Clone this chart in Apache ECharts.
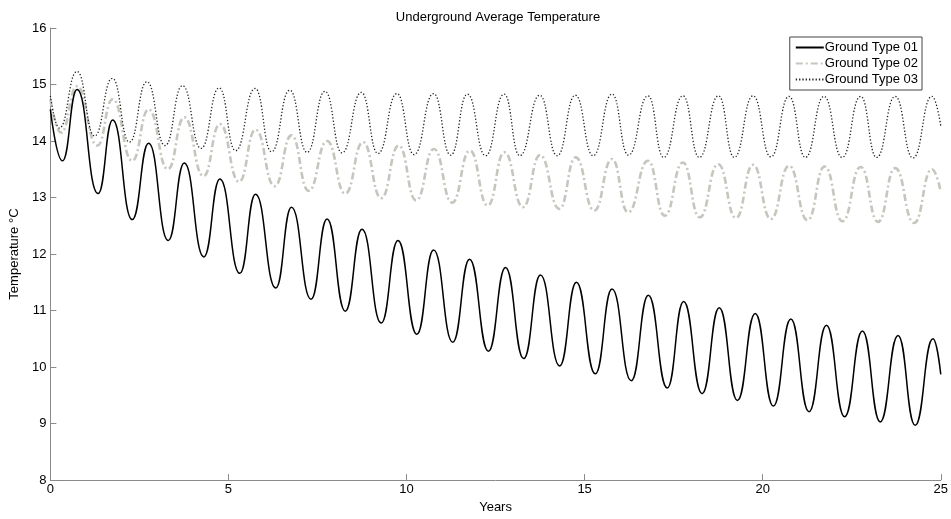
<!DOCTYPE html>
<html>
<head>
<meta charset="utf-8">
<script src="https://cdn.jsdelivr.net/npm/echarts@6/dist/echarts.min.js"></script>
<style>html,body{margin:0;padding:0;background:#fff}#c{width:951px;height:519px}</style>
</head>
<body>
<div id="c"></div>
<script>
var seriesNames = ['Ground Type 01', 'Ground Type 02', 'Ground Type 03'];

var t1 = [0, 0.34, 0.75, 1.34, 1.75, 2.3, 2.76, 3.31, 3.76, 4.31, 4.76, 5.32, 5.76, 6.33, 6.77, 7.32, 7.77, 8.28, 8.75, 9.29, 9.76, 10.29, 10.76, 11.3, 11.77, 12.3, 12.78, 13.29, 13.76, 14.3, 14.77, 15.3, 15.77, 16.31, 16.79, 17.32, 17.78, 18.3, 18.78, 19.29, 19.79, 20.3, 20.79, 21.3, 21.79, 22.3, 22.8, 23.3, 23.8, 24.28, 24.78, 25];
var v1 = [14.56, 13.65, 14.91, 13.07, 14.37, 12.61, 13.96, 12.24, 13.61, 11.95, 13.33, 11.66, 13.06, 11.40, 12.83, 11.20, 12.62, 10.99, 12.44, 10.78, 12.24, 10.58, 12.07, 10.44, 11.91, 10.28, 11.76, 10.15, 11.63, 10.02, 11.50, 9.88, 11.38, 9.76, 11.27, 9.63, 11.16, 9.53, 11.05, 9.41, 10.95, 9.31, 10.85, 9.21, 10.74, 9.12, 10.64, 9.03, 10.56, 8.97, 10.50, 9.87];

var t2 = [0, 0.3, 0.75, 1.32, 1.75, 2.3, 2.76, 3.3, 3.76, 4.3, 4.76, 5.3, 5.76, 6.3, 6.77, 7.25, 7.77, 8.28, 8.78, 9.29, 9.78, 10.27, 10.77, 11.28, 11.78, 12.28, 12.75, 13.27, 13.75, 14.29, 14.75, 15.27, 15.77, 16.22, 16.78, 17.25, 17.76, 18.23, 18.75, 19.25, 19.73, 20.23, 20.74, 21.26, 21.74, 22.24, 22.75, 23.24, 23.72, 24.25, 24.75, 25];
var v2 = [14.74, 14.15, 14.97, 13.92, 14.74, 13.65, 14.56, 13.50, 14.42, 13.38, 14.30, 13.28, 14.20, 13.20, 14.10, 13.12, 14.00, 13.07, 13.98, 12.99, 13.92, 12.95, 13.86, 12.91, 13.83, 12.86, 13.80, 12.83, 13.75, 12.80, 13.71, 12.77, 13.68, 12.74, 13.65, 12.68, 13.62, 12.65, 13.59, 12.64, 13.58, 12.62, 13.56, 12.60, 13.55, 12.58, 13.54, 12.57, 13.52, 12.55, 13.50, 13.10];

var t3 = [0, 0.25, 0.75, 1.24, 1.74, 2.22, 2.71, 3.22, 3.71, 4.23, 4.74, 5.2, 5.75, 6.21, 6.72, 7.21, 7.71, 8.19, 8.73, 9.2, 9.73, 10.21, 10.76, 11.24, 11.71, 12.22, 12.74, 13.18, 13.74, 14.23, 14.74, 15.24, 15.77, 16.23, 16.78, 17.22, 17.76, 18.22, 18.76, 19.2, 19.73, 20.23, 20.74, 21.2, 21.72, 22.23, 22.75, 23.2, 23.72, 24.22, 24.75, 25];
var v3 = [14.80, 14.23, 15.23, 14.09, 15.11, 13.98, 15.05, 13.92, 14.98, 13.87, 14.94, 13.83, 14.93, 13.81, 14.90, 13.80, 14.88, 13.79, 14.86, 13.78, 14.84, 13.76, 14.84, 13.75, 14.83, 13.74, 14.83, 13.74, 14.81, 13.74, 14.81, 13.74, 14.83, 13.75, 14.80, 13.71, 14.80, 13.71, 14.80, 13.71, 14.80, 13.72, 14.79, 13.71, 14.79, 13.71, 14.79, 13.71, 14.79, 13.70, 14.79, 14.27];

function pairs(t, v) { return t.map(function (x, i) { return [x, v[i]]; }); }

var font = 'Liberation Sans, Arial, sans-serif';
var chart = echarts.init(document.getElementById('c'), null, { renderer: 'canvas' });
chart.setOption({
  backgroundColor: '#fff',
  animation: false,
  title: {
    text: 'Underground Average Temperature',
    left: 493, textAlign: 'center', top: 6,
    textStyle: { fontFamily: font, fontSize: 13, fontWeight: 'normal', color: '#000' }
  },
  legend: {
    orient: 'vertical', right: 29, top: 37,
    itemWidth: 28, itemHeight: 14, itemGap: 3,
    padding: [4, 4, 4, 5],
    backgroundColor: '#fff', borderColor: '#444', borderWidth: 1,
    itemStyle: { opacity: 0 },
    textStyle: { fontFamily: font, fontSize: 13, color: '#000', padding: [0, 0, 0, -4] },
    data: seriesNames
  },
  grid: { left: 47, right: 10, top: 28, bottom: 36, containLabel: false },
  xAxis: {
    type: 'value', min: 0, max: 25, interval: 5,
    name: 'Years', nameLocation: 'middle', nameGap: 18,
    nameTextStyle: { fontFamily: font, fontSize: 13, color: '#000' },
    axisLine: { show: true, onZero: false, lineStyle: { color: '#8a8a8a', width: 1 } },
    axisTick: { show: true, inside: true, length: 6, lineStyle: { color: '#8a8a8a' } },
    axisLabel: { fontFamily: font, fontSize: 13, color: '#000', margin: 3 },
    splitLine: { show: false }
  },
  yAxis: {
    type: 'value', min: 8, max: 16, interval: 1,
    name: 'Temperature °C', nameLocation: 'middle', nameGap: 29,
    nameTextStyle: { fontFamily: font, fontSize: 13, color: '#000' },
    axisLine: { show: true, lineStyle: { color: '#8a8a8a', width: 1 } },
    axisTick: { show: true, inside: true, length: 6, lineStyle: { color: '#8a8a8a' } },
    axisLabel: { fontFamily: font, fontSize: 13, color: '#000', margin: 4 },
    splitLine: { show: false }
  },
  series: [
    {
      name: seriesNames[1], type: 'line', data: pairs(t2, v2), smooth: 0.5, smoothMonotone: 'x',
      symbol: 'none', lineStyle: { color: '#c6c6be', width: 2.6, type: [7, 3, 2, 3] }, itemStyle: { color: '#c6c6be' }, z: 2
    },
    {
      name: seriesNames[2], type: 'line', data: pairs(t3, v3), smooth: 0.5, smoothMonotone: 'x',
      symbol: 'none', lineStyle: { color: '#222', width: 1.3, type: [1.3, 2] }, itemStyle: { color: '#222' }, z: 3
    },
    {
      name: seriesNames[0], type: 'line', data: pairs(t1, v1), smooth: 0.5, smoothMonotone: 'x',
      symbol: 'none', lineStyle: { color: '#000', width: 1.5 }, itemStyle: { color: '#000' }, z: 4
    }
  ]
});
</script>
</body>
</html>
